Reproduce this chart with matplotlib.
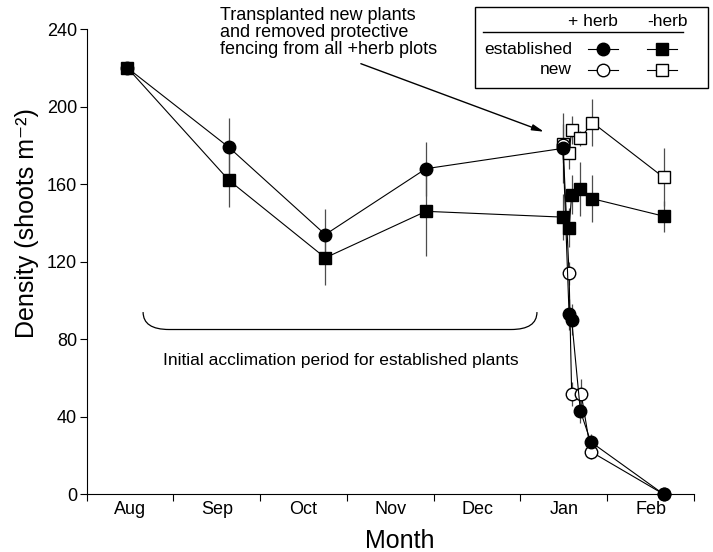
"""Shoot density of established and transplanted plants, +/- herbivore exclusion."""

import matplotlib
matplotlib.use("Agg")
import matplotlib.pyplot as plt
from matplotlib.lines import Line2D
from matplotlib.patches import Rectangle, PathPatch
from matplotlib.path import Path

plt.rcParams["font.family"] = ["Liberation Sans", "DejaVu Sans"]

# month axis: 0 = start of Aug, 7 = end of Feb
month_labels = ["Aug", "Sep", "Oct", "Nov", "Dec", "Jan", "Feb"]

est_plus_x = [0.47, 1.64, 2.75, 3.91, 5.49, 5.56, 5.59, 5.69, 5.81, 6.65]
est_plus_y = [220, 179, 134, 168, 178.5, 93, 90, 43, 27, 0]
est_plus_err = [0, 15, 13, 14, 18, 8, 8, 6, 4, 0]

est_minus_x = [0.47, 1.64, 2.75, 3.91, 5.49, 5.56, 5.59, 5.69, 5.83, 6.65]
est_minus_y = [220, 162, 122, 146, 143, 137.5, 154.5, 157.5, 152.5, 143.5]
est_minus_err = [0, 14, 14, 23, 12, 10, 10, 14, 12, 8]

new_plus_x = [5.49, 5.56, 5.59, 5.70, 5.81, 6.65]
new_plus_y = [180, 114, 51.7, 51.7, 22, 0]
new_plus_err = [0, 6, 6, 8, 4, 0]

new_minus_x = [5.49, 5.56, 5.59, 5.69, 5.83, 6.65]
new_minus_y = [181, 176, 188, 183.7, 191.8, 163.5]
new_minus_err = [10, 8, 7, 4, 12, 15]

W, H = 713, 552


def fx(px):
    return px / W


def fy(py):
    return 1 - py / H


fig = plt.figure(figsize=(7.13, 5.52), dpi=100)
ax = fig.add_axes([fx(86.7), fy(494.2), fx(694) - fx(86.7), fy(29.2) - fy(494.2)])

err_kw = dict(fmt="none", ecolor="0.3", elinewidth=0.9, capsize=0, zorder=1)
for xs, ys, es in [(est_plus_x, est_plus_y, est_plus_err), (est_minus_x, est_minus_y, est_minus_err),
                   (new_plus_x, new_plus_y, new_plus_err), (new_minus_x, new_minus_y, new_minus_err)]:
    ax.errorbar(xs, ys, yerr=es, **err_kw)

line_kw = dict(color="black", lw=0.8, ms=9, clip_on=False, markeredgewidth=1.0, markeredgecolor="black")
ax.plot(new_minus_x, new_minus_y, marker="s", mfc="white", zorder=3, **line_kw)
ax.plot(new_plus_x, new_plus_y, marker="o", mfc="white", zorder=3, **line_kw)
ax.plot(est_plus_x, est_plus_y, marker="o", mfc="black", zorder=4, **line_kw)
ax.plot(est_minus_x, est_minus_y, marker="s", mfc="black", zorder=5, **line_kw)

ax.set_xlim(0, 7)
ax.set_ylim(0, 240)
ax.spines["top"].set_visible(False)
ax.spines["right"].set_visible(False)
ax.set_xticks(range(8))
ax.set_xticklabels([])
ax.set_xticks([i + 0.5 for i in range(7)], minor=True)
ax.set_xticklabels(month_labels, minor=True, fontsize=13)
ax.tick_params(axis="x", which="major", direction="out", length=5)
ax.tick_params(axis="x", which="minor", length=0, pad=5)
ax.set_yticks(range(0, 241, 40))
ax.tick_params(axis="y", direction="out", length=5, labelsize=13, pad=2)

ax.set_ylabel("Density (shoots m\u207b\u00b2)", fontsize=18, va="center")
ax.yaxis.set_label_coords(-0.098, 0.583)
ax.set_xlabel("Month", fontsize=18, va="center")
ax.xaxis.set_label_coords(0.516, -0.100)

# acclimation bracket
bl, br, btop, bbot = 0.65, 5.19, 94, 85
verts = [(bl, btop), (bl, bbot), (bl + 0.3, bbot), (br - 0.3, bbot), (br, bbot), (br, btop)]
codes = [Path.MOVETO, Path.CURVE3, Path.CURVE3, Path.LINETO, Path.CURVE3, Path.CURVE3]
ax.add_patch(PathPatch(Path(verts, codes), fill=False, lw=0.9, ec="black"))
ax.text(2.93, 69, "Initial acclimation period for established plants", ha="center", va="center", fontsize=12.5)

# transplant annotation
fig.text(fx(220), fy(7), "Transplanted new plants\nand removed protective\nfencing from all +herb plots",
         ha="left", va="top", fontsize=13, linespacing=1.0)
ax.annotate("", xy=(5.30, 186.6), xytext=(3.13, 222.7),
            arrowprops=dict(arrowstyle="-|>,head_length=0.7,head_width=0.18", lw=1.0, color="black"),
            annotation_clip=False)

# hand-built legend table
fig.patches.append(Rectangle((fx(475), fy(88.3)), fx(708) - fx(475), fy(6.7) - fy(88.3),
                             transform=fig.transFigure, fill=False, lw=1.0, ec="black"))
fig.lines.append(Line2D([fx(483), fx(683)], [fy(31.7), fy(31.7)], transform=fig.transFigure, color="black", lw=1.0))
fig.text(fx(593), fy(22), "+ herb", ha="center", va="center", fontsize=12.5)
fig.text(fx(667), fy(22), "-herb", ha="center", va="center", fontsize=12.5)
fig.text(fx(572), fy(49), "established", ha="right", va="center", fontsize=12.5)
fig.text(fx(572), fy(70), "new", ha="right", va="center", fontsize=12.5)
for cx, cy, mk, fc in [(603, 49, "o", "black"), (662, 49, "s", "black"), (603, 70, "o", "white"), (662, 70, "s", "white")]:
    fig.lines.append(Line2D([fx(cx - 15), fx(cx), fx(cx + 15)], [fy(cy)] * 3, transform=fig.transFigure,
                            color="black", lw=0.8, marker=mk, markevery=[1], ms=9, mfc=fc, mec="black"))

fig.savefig("out.png", dpi=100)
